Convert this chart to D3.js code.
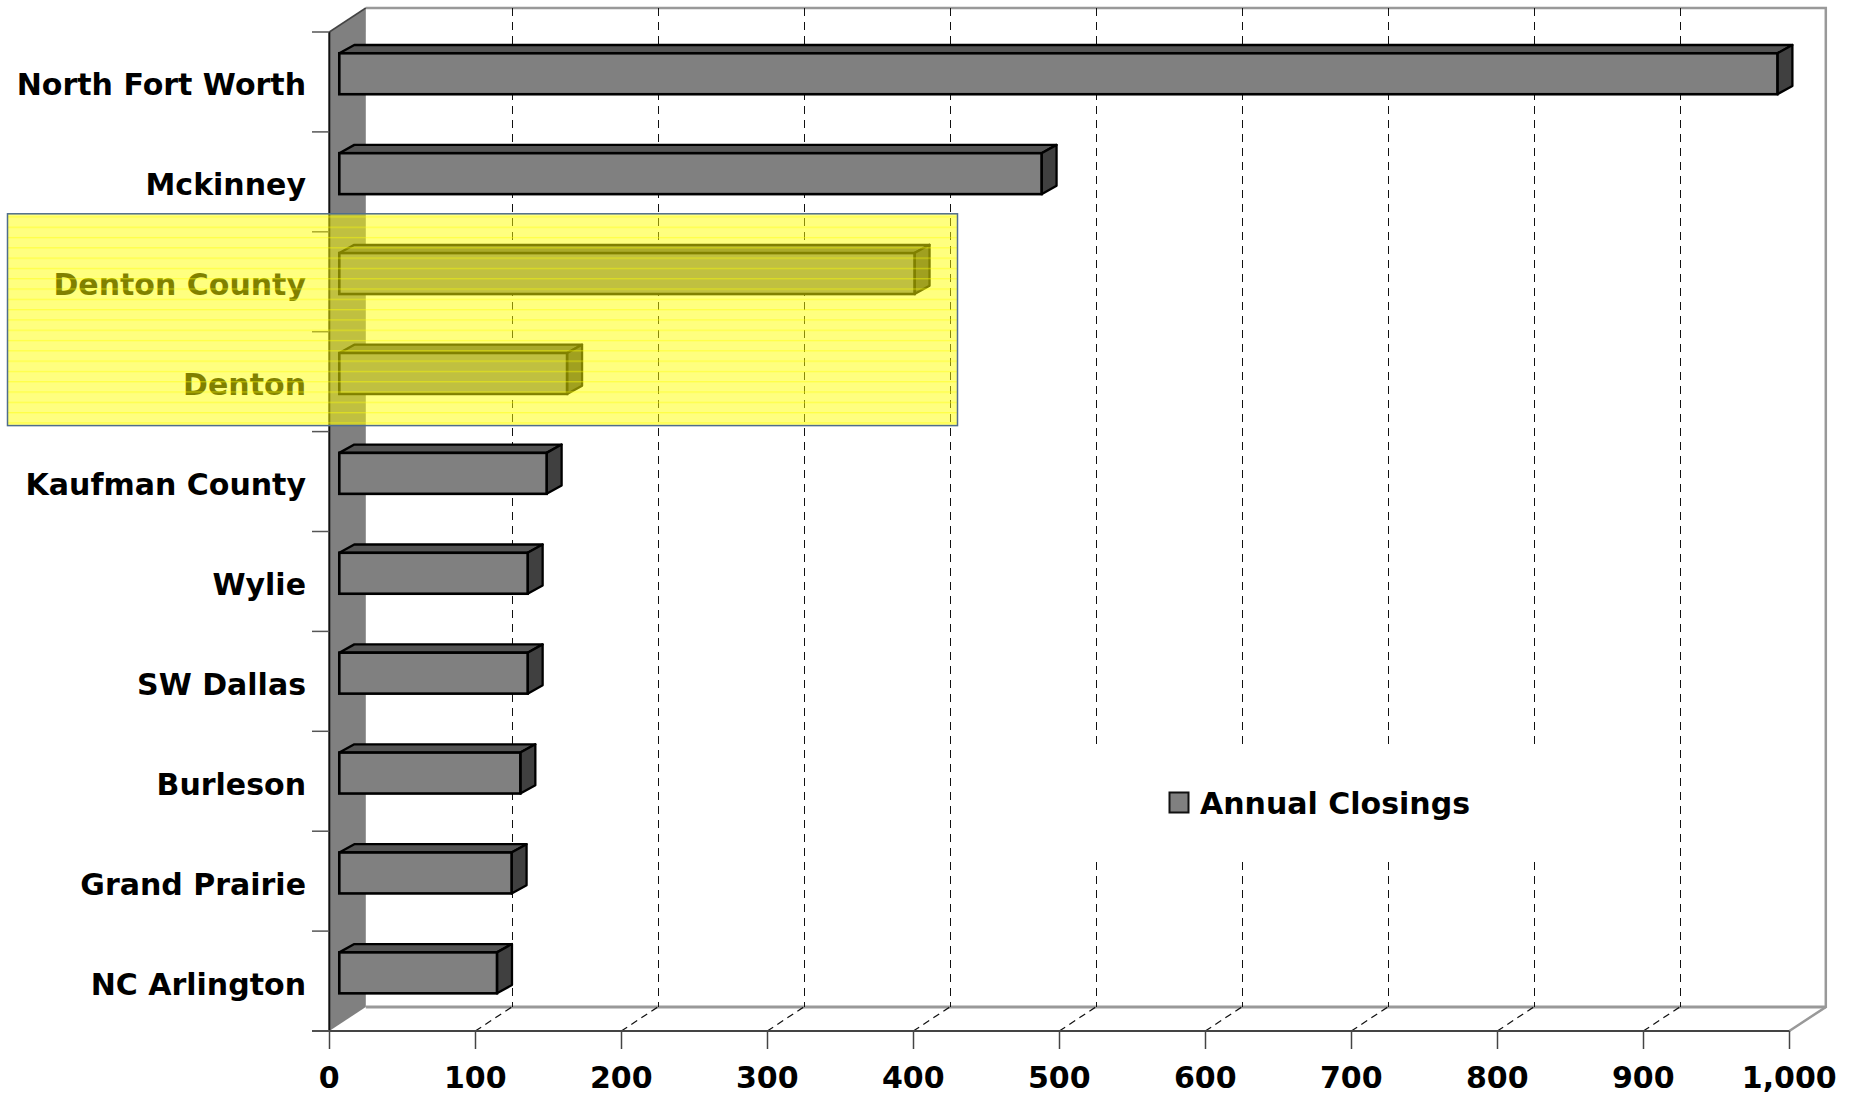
<!DOCTYPE html>
<html>
<head>
<meta charset="utf-8">
<script src="https://cdn.jsdelivr.net/npm/d3@7"></script>
<style>
  body { margin: 0; background: white; }
  text { font-family: "DejaVu Sans", Verdana, sans-serif; font-weight: bold; }
</style>
</head>
<body>
<div id="chart"></div>
<script>
// data
const categories = ["North Fort Worth", "Mckinney", "Denton County", "Denton", "Kaufman County",
    "Wylie", "SW Dallas", "Burleson", "Grand Prairie", "NC Arlington"];
const closings = [985, 481, 394, 156, 142, 129, 129, 124, 118, 108];
const xTicks = [0, 100, 200, 300, 400, 500, 600, 700, 800, 900, 1000];
const seriesName = "Annual Closings";
const highlighted = ["Denton County", "Denton"];

// config
const width = 1858;
const height = 1095;
const depthX = 36.5;   // wall depth offset
const depthY = 24;
const barOffX = 10;    // bar front plane offset
const barDx = 15;      // bar depth
const barDy = 8.3;

const x = d3.scaleLinear().domain([0, 1000]).range([329.3, 1789.3]);
const y = d3.scaleBand().domain(categories).range([32, 1031]);
const crisp = v => Math.round(v) + 0.5;

const svg = d3.select("#chart").append("svg")
    .attr("width", width)
    .attr("height", height);

const yTop = y.range()[0], yBottom = y.range()[1];
const x0 = x(0), x1 = x(1000);

// back wall edges
svg.append("path")
    .attr("d", `M${x0 + depthX},${yTop - depthY}L${x1 + depthX},${yTop - depthY}L${x1 + depthX},${yBottom - depthY}L${x1},${yBottom}`)
    .attr("fill", "none").attr("stroke", "#999").attr("stroke-width", 2.5);
// floor back edge
svg.append("line")
    .attr("x1", x0 + depthX).attr("x2", x1 + depthX)
    .attr("y1", yBottom - depthY).attr("y2", yBottom - depthY)
    .attr("stroke", "#999").attr("stroke-width", 3);

// gridlines on back wall and floor
const grid = svg.append("g");
xTicks.filter(d => d > 0 && d < 1000).forEach(d => {
    grid.append("line")
        .attr("x1", crisp(x(d) + depthX)).attr("x2", crisp(x(d) + depthX))
        .attr("y1", yTop - depthY).attr("y2", yBottom - depthY)
        .attr("stroke", "#111").attr("stroke-width", 1)
        .attr("stroke-dasharray", "8,6");
    grid.append("line")
        .attr("x1", x(d)).attr("x2", x(d) + depthX)
        .attr("y1", yBottom).attr("y2", yBottom - depthY)
        .attr("stroke", "#111").attr("stroke-width", 1.2)
        .attr("stroke-dasharray", "7,5");
});

// left wall
svg.append("path")
    .attr("d", `M${x0},${yTop}L${x0 + depthX},${yTop - depthY}L${x0 + depthX},${yBottom - depthY}L${x0},${yBottom}Z`)
    .attr("fill", "#808080").attr("stroke", "none");
svg.append("line")
    .attr("x1", x0).attr("x2", x0 + depthX).attr("y1", yTop).attr("y2", yTop - depthY)
    .attr("stroke", "#444").attr("stroke-width", 1.5);
svg.append("line")
    .attr("x1", x0).attr("x2", x0).attr("y1", yTop).attr("y2", yBottom)
    .attr("stroke", "#111").attr("stroke-width", 2);

// legend box hides gridlines
const legend = svg.append("g");
legend.append("rect")
    .attr("x", 1050).attr("y", 744).attr("width", 560).attr("height", 116)
    .attr("fill", "white");
legend.append("rect")
    .attr("x", 1169.5).attr("y", 792.5).attr("width", 19).attr("height", 20)
    .attr("fill", "#808080").attr("stroke", "#111").attr("stroke-width", 2);
legend.append("text")
    .attr("x", 1200).attr("y", 814)
    .attr("font-size", 30)
    .text(seriesName);

// x axis
const axis = svg.append("g");
axis.append("line")
    .attr("x1", 312).attr("x2", x1).attr("y1", yBottom).attr("y2", yBottom)
    .attr("stroke", "#444").attr("stroke-width", 2);
axis.selectAll(".xtick")
    .data(xTicks)
    .enter().append("line")
    .attr("x1", d => crisp(x(d))).attr("x2", d => crisp(x(d)))
    .attr("y1", yBottom).attr("y2", yBottom + 18)
    .attr("stroke", "#444").attr("stroke-width", 1.5);
axis.selectAll(".xlabel")
    .data(xTicks)
    .enter().append("text")
    .attr("x", d => x(d))
    .attr("y", 1088)
    .attr("text-anchor", "middle")
    .attr("font-size", 30)
    .text(d => d3.format(",")(d));

// category axis
const bounds = categories.map(c => y(c)).concat([yBottom]);
svg.selectAll(".ytick")
    .data(bounds)
    .enter().append("line")
    .attr("x1", 312).attr("x2", x0)
    .attr("y1", d => d).attr("y2", d => d)
    .attr("stroke", "#555").attr("stroke-width", 1.5);
svg.selectAll(".ylabel")
    .data(categories)
    .enter().append("text")
    .attr("x", 306)
    .attr("y", d => y(d) + y.bandwidth() / 2 + 13.5)
    .attr("text-anchor", "end")
    .attr("font-size", 30)
    .text(d => d);

// 3d bars
const bars = svg.selectAll(".bar")
    .data(categories.map((c, i) => ({cat: c, value: closings[i]})))
    .enter().append("g");
const xs = d => x0 + barOffX;
const xe = d => x(d.value) + barOffX;
const yt = d => y(d.cat) + y.bandwidth() * 0.213;
const yb = d => y(d.cat) + y.bandwidth() * 0.623;
bars.append("path")
    .attr("d", d => `M${xs(d)},${yt(d)}L${xs(d) + barDx},${yt(d) - barDy}L${xe(d) + barDx},${yt(d) - barDy}L${xe(d)},${yt(d)}Z`)
    .attr("fill", "#555").attr("stroke", "#000").attr("stroke-width", 2.3).attr("stroke-linejoin", "round");
bars.append("path")
    .attr("d", d => `M${xe(d)},${yt(d)}L${xe(d) + barDx},${yt(d) - barDy}L${xe(d) + barDx},${yb(d) - barDy}L${xe(d)},${yb(d)}Z`)
    .attr("fill", "#404040").attr("stroke", "#000").attr("stroke-width", 2.3).attr("stroke-linejoin", "round");
bars.append("rect")
    .attr("x", d => xs(d)).attr("y", d => yt(d))
    .attr("width", d => xe(d) - xs(d)).attr("height", d => yb(d) - yt(d))
    .attr("fill", "#808080").attr("stroke", "#000").attr("stroke-width", 2.6);

// yellow highlight over the two Denton rows
const defs = svg.append("defs");
const pat = defs.append("pattern")
    .attr("id", "stripes")
    .attr("patternUnits", "userSpaceOnUse")
    .attr("width", 10).attr("height", 10.3);
pat.append("rect").attr("width", 10).attr("height", 10.3).attr("fill", "#ffff00").attr("fill-opacity", 0.5);
pat.append("rect").attr("y", 0).attr("width", 10).attr("height", 1.3).attr("fill", "#ffff00").attr("fill-opacity", 0.45);

const hlTop = y(highlighted[0]) - 18;
const hlBottom = y(highlighted[1]) + y.bandwidth() - 6;
svg.append("rect")
    .attr("x", 7.5).attr("y", hlTop)
    .attr("width", 950).attr("height", hlBottom - hlTop)
    .attr("fill", "url(#stripes)")
    .attr("stroke", "#4f6d8c").attr("stroke-width", 1.5);
</script>
</body>
</html>
